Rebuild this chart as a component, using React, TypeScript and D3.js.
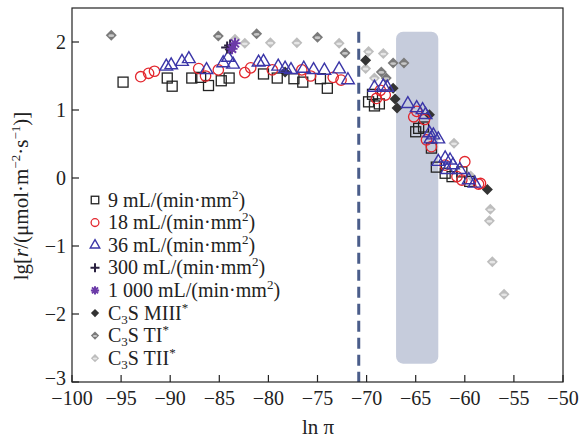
import React from "react";
import * as d3 from "d3";

type P = [number, number];

const xTicks = [-100, -95, -90, -85, -80, -75, -70, -65, -60, -55, -50];
const yTicks = [-3, -2, -1, 0, 1, 2];

const sq9: P[] = [
  [-94.8, 1.41], [-90.3, 1.47], [-89.8, 1.35], [-87.8, 1.47], [-86.9, 1.48], [-86.1, 1.36],
  [-84.8, 1.43], [-84.0, 1.47], [-80.5, 1.53], [-79.1, 1.47], [-77.4, 1.46], [-76.5, 1.41],
  [-74.7, 1.46], [-74.0, 1.32],
  [-69.8, 1.12], [-69.2, 1.06], [-68.7, 1.09], [-69.4, 1.23], [-65.0, 0.68], [-64.7, 0.73],
  [-64.2, 0.75], [-63.4, 0.44], [-62.9, 0.16], [-61.3, 0.02], [-62.0, 0.07], [-60.3, 0.09],
  [-59.5, -0.05],
];
const ci18: P[] = [
  [-93.0, 1.49], [-92.2, 1.54], [-91.6, 1.57], [-87.1, 1.61], [-86.4, 1.5], [-85.1, 1.59],
  [-82.4, 1.55], [-81.8, 1.62], [-79.6, 1.59], [-76.6, 1.59], [-75.7, 1.5], [-73.4, 1.48],
  [-72.6, 1.44],
  [-69.0, 1.17], [-68.1, 1.22], [-68.6, 1.29], [-65.2, 0.9], [-64.9, 0.98], [-64.1, 0.86],
  [-63.9, 0.56], [-63.4, 0.46], [-62.0, 0.19], [-60.0, 0.24], [-60.3, -0.03], [-58.6, -0.09],
  [-60.8, 0.02], [-58.4, -0.08],
];
const tr36: P[] = [
  [-90.4, 1.64], [-89.9, 1.66], [-88.8, 1.71], [-88.1, 1.75], [-86.3, 1.59], [-84.6, 1.69],
  [-84.1, 1.77], [-83.6, 1.67], [-81.0, 1.7], [-80.5, 1.71], [-79.0, 1.64], [-78.3, 1.61],
  [-77.7, 1.59], [-76.4, 1.61], [-75.4, 1.59], [-74.3, 1.58], [-72.8, 1.6], [-71.9, 1.44],
  [-69.2, 1.33], [-68.3, 1.35], [-67.9, 1.33], [-65.8, 1.09], [-64.9, 1.03], [-64.3, 1.0],
  [-64.0, 0.93], [-63.6, 0.66], [-63.2, 0.63], [-62.7, 0.57], [-63.5, 0.57], [-62.7, 0.24],
  [-62.0, 0.29], [-61.5, 0.26], [-61.2, 0.19], [-60.5, 0.12], [-59.6, -0.03], [-59.0, -0.08],
  [-61.8, 0.12],
];
const pl300: P[] = [[-84.2, 1.92], [-83.9, 1.95]];
const as1000: P[] = [[-83.4, 1.98], [-83.7, 1.9]];
const m3: P[] = [
  [-83.9, 1.89], [-78.3, 1.56], [-70.1, 1.73], [-67.3, 1.32], [-67.1, 1.16], [-66.9, 1.03],
  [-63.6, 0.93], [-57.7, -0.17],
];
const t1: P[] = [
  [-96.0, 2.1], [-85.1, 2.09], [-81.2, 2.12], [-75.0, 2.07], [-72.2, 1.84], [-68.5, 1.56],
  [-67.3, 1.69], [-66.2, 1.69], [-68.0, 1.47],
];
const t2: P[] = [
  [-83.4, 2.04], [-82.4, 1.98], [-79.8, 1.99], [-77.1, 1.99], [-72.8, 1.98], [-69.8, 1.86],
  [-68.3, 1.83], [-70.1, 1.61], [-69.2, 1.47], [-61.1, 0.51], [-59.4, 0.03], [-57.4, -0.46],
  [-57.5, -0.63], [-57.2, -1.23], [-56.0, -1.71],
];
const dashX = -70.8;
const band: [number, number, number, number] = [-67.0, -62.7, 2.15, -2.73];

const FONT = "'Liberation Serif', 'Times New Roman', serif";

function Marker({ kind, x, y, s = 1 }: { kind: string; x: number; y: number; s?: number }) {
  const t = `translate(${x},${y})`;
  if (kind === "sq")
    return <rect x={x - 5 * s} y={y - 5 * s} width={10 * s} height={10 * s} fill="none" stroke="#222" strokeWidth={1.3} />;
  if (kind === "ci")
    return <circle cx={x} cy={y} r={5.2 * s} fill="none" stroke="#e3262d" strokeWidth={1.3} />;
  if (kind === "tr")
    return <path transform={t} d={d3.symbol(d3.symbolTriangle, 70 * s * s)()!} fill="none" stroke="#3b36a8" strokeWidth={1.4} />;
  if (kind === "pl")
    return <path transform={t} d={`M${-6 * s},0H${6 * s}M0,${-6 * s}V${6 * s}`} stroke="#2a2040" strokeWidth={2} />;
  if (kind === "as")
    return (
      <g transform={t} stroke="#6b3aa8" strokeWidth={2}>
        <path d={`M${-5.5 * s},0H${5.5 * s}M0,${-5.5 * s}V${5.5 * s}M${-4 * s},${-4 * s}L${4 * s},${4 * s}M${-4 * s},${4 * s}L${4 * s},${-4 * s}`} />
      </g>
    );
  const fill = kind === "m3" ? "#333" : kind === "t1" ? "#7a7a7a" : "#bdbdbd";
  const hi = kind === "m3" ? null : kind === "t1" ? "#c8c8c8" : "#e6e6e6";
  return (
    <g transform={t}>
      <path d={`M0,${-5.5 * s}L${5.5 * s},0L0,${5.5 * s}L${-5.5 * s},0Z`} fill={fill} />
      {hi && <ellipse cx={0} cy={0.5 * s} rx={3 * s} ry={1.4 * s} fill={hi} />}
    </g>
  );
}

export default function App() {
  const W = 579, H = 441;
  const L = 72, R = 563, T = 8, B = 382;
  const x = d3.scaleLinear().domain([-100, -50]).range([L, R]);
  const y = d3.scaleLinear().domain([-3, 2.5]).range([B, T]);

  const series: [string, P[]][] = [
    ["t2", t2], ["t1", t1], ["m3", m3], ["sq", sq9], ["ci", ci18], ["tr", tr36], ["pl", pl300], ["as", as1000],
  ];

  const legend: { k: string; main: string; sub?: string; rest?: string; sup: string; tail?: string }[] = [
    { k: "sq", main: "9 mL/(min·mm", sup: "2", tail: ")" },
    { k: "ci", main: "18 mL/(min·mm", sup: "2", tail: ")" },
    { k: "tr", main: "36 mL/(min·mm", sup: "2", tail: ")" },
    { k: "pl", main: "300 mL/(min·mm", sup: "2", tail: ")" },
    { k: "as", main: "1 000 mL/(min·mm", sup: "2", tail: ")" },
    { k: "m3", main: "C", sub: "3", rest: "S MIII", sup: "*" },
    { k: "t1", main: "C", sub: "3", rest: "S TI", sup: "*" },
    { k: "t2", main: "C", sub: "3", rest: "S TII", sup: "*" },
  ];

  return (
    <svg width={W} height={H} style={{ position: "absolute", left: 0, top: 0, background: "#fff" }} fontFamily={FONT}>
      <rect
        x={x(band[0])} y={y(band[2])} width={x(band[1]) - x(band[0])} height={y(band[3]) - y(band[2])}
        rx={7} fill="#c6ccdc"
      />
      <line x1={x(dashX)} x2={x(dashX)} y1={y(2.15)} y2={B} stroke="#4a5d8a" strokeWidth={3} strokeDasharray="11,6" />
      {series.map(([k, pts]) =>
        pts.map((p, i) => <Marker key={k + i} kind={k} x={x(p[0])} y={y(p[1])} />)
      )}
      <rect x={L} y={T} width={R - L} height={B - T} fill="none" stroke="#222" strokeWidth={1.2} />
      {xTicks.map((t) => (
        <g key={"x" + t}>
          <line x1={x(t)} x2={x(t)} y1={B} y2={B - 7} stroke="#222" strokeWidth={1.2} />
          <text x={x(t)} y={B + 23} textAnchor="middle" fontSize={20} fill="#222">
            {t < 0 ? "\u2212" + Math.abs(t) : t}
          </text>
        </g>
      ))}
      {yTicks.map((t) => (
        <g key={"y" + t}>
          <line x1={L} x2={L + 7} y1={y(t)} y2={y(t)} stroke="#222" strokeWidth={1.2} />
          <text x={L - 6} y={y(t) + (t === -3 ? 3 : 6.5)} textAnchor="end" fontSize={20} fill="#222">
            {t < 0 ? "\u2212" + Math.abs(t) : t}
          </text>
        </g>
      ))}
      <text x={318} y={434} textAnchor="middle" fontSize={21} fill="#222">ln π</text>
      <text transform="translate(28,196) rotate(-90)" textAnchor="middle" fontSize={21} fill="#222">
        lg[<tspan fontStyle="italic">r</tspan>/(μmol·m<tspan dy={-8} fontSize={13}>−2</tspan>
        <tspan dy={8}>·s</tspan><tspan dy={-8} fontSize={13}>−1</tspan><tspan dy={8}>)]</tspan>
      </text>
      {legend.map((d, i) => {
        const cy = 200 + i * 22.6;
        return (
          <g key={"l" + i}>
            <Marker kind={d.k} x={95} y={cy} s={0.75} />
            <text x={108} y={cy + 6.5} fontSize={20} fill="#222">
              {d.main}
              {d.sub && <tspan dy={4} fontSize={13}>{d.sub}</tspan>}
              {d.rest && <tspan dy={-4}>{d.rest}</tspan>}
              <tspan dy={-8} fontSize={13}>{d.sup}</tspan>
              {d.tail && <tspan dy={8}>{d.tail}</tspan>}
            </text>
          </g>
        );
      })}
    </svg>
  );
}
